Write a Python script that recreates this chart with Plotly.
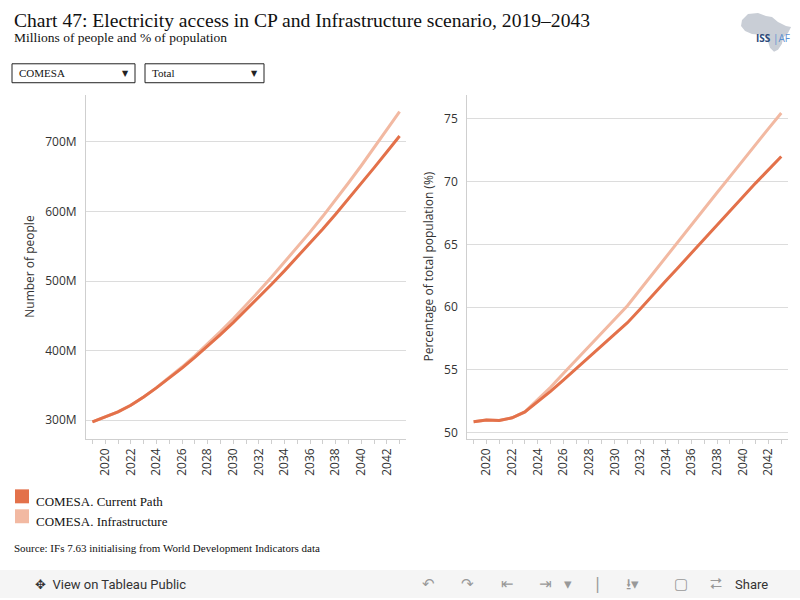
import plotly.graph_objects as go

years = list(range(2019, 2044))

# Number of people with electricity access (millions)
people_cp = [297.6, 304.8, 312.0, 321.5, 333.3, 346.5, 360.4, 375.0, 390.3, 406.3,
             423.0, 440.3, 458.2, 476.6, 495.4, 514.6, 534.2, 554.2, 574.8, 596.0,
             617.8, 640.0, 662.5, 685.3, 708.3]
people_infra = [297.6, 304.8, 312.0, 321.5, 333.3, 346.9, 361.3, 376.5, 392.6, 409.5,
                427.3, 445.8, 465.2, 485.2, 505.7, 526.7, 548.2, 570.2, 593.0, 616.5,
                640.8, 665.6, 690.9, 716.6, 743.3]

# Share of total population with access (%)
pct_cp = [50.85, 51.0, 50.95, 51.17, 51.64, 52.44, 53.28, 54.18, 55.08, 56.0,
          56.9, 57.8, 58.75, 59.85, 61.0, 62.1, 63.2, 64.33, 65.45, 66.57,
          67.67, 68.77, 69.88, 70.97, 72.0]
pct_infra = [50.85, 51.0, 50.95, 51.17, 51.64, 52.6, 53.6, 54.7, 55.77, 56.83,
             57.9, 58.96, 60.1, 61.4, 62.7, 64.0, 65.27, 66.57, 67.87, 69.13,
             70.4, 71.7, 72.97, 74.22, 75.47]

people_ticks = [300, 400, 500, 600, 700]
people_labels = ["300M", "400M", "500M", "600M", "700M"]
pct_ticks = [50, 55, 60, 65, 70, 75]

C_CP = "#E3714A"
C_INFRA = "#F2B9A2"
GRID = "#dcdcdc"
TICKF = dict(family="Open Sans", size=12, color="#333")
SERIF = "Liberation Serif"
W, H = 800, 600


def px(x, y):
    # pixel position -> paper coords
    return x / W, 1 - y / H


fig = go.Figure()

# draw infrastructure first so current path sits on top
fig.add_trace(go.Scatter(x=years, y=people_infra, mode="lines", line=dict(color=C_INFRA, width=3),
                         name="COMESA. Infrastructure", xaxis="x", yaxis="y"))
fig.add_trace(go.Scatter(x=years, y=people_cp, mode="lines", line=dict(color=C_CP, width=3),
                         name="COMESA. Current Path", xaxis="x", yaxis="y"))
fig.add_trace(go.Scatter(x=years, y=pct_infra, mode="lines", line=dict(color=C_INFRA, width=3),
                         name="COMESA. Infrastructure", xaxis="x2", yaxis="y2"))
fig.add_trace(go.Scatter(x=years, y=pct_cp, mode="lines", line=dict(color=C_CP, width=3),
                         name="COMESA. Current Path", xaxis="x2", yaxis="y2"))

xcommon = dict(range=[2018.5, 2043.5], tickmode="linear", tick0=2020, dtick=2,
               tickangle=-90, tickfont=TICKF, showgrid=False, zeroline=False,
               showline=True, linecolor="#cfcfcf", ticks="outside", ticklen=4,
               tickcolor="#cfcfcf",
               minor=dict(dtick=1, ticks="outside", ticklen=4, tickcolor="#cfcfcf"))
ycommon = dict(tickfont=TICKF, showgrid=True, gridcolor=GRID, zeroline=False,
               showline=True, linecolor="#cfcfcf", ticks="", ticklabelstandoff=6)

fig.update_layout(
    width=W, height=H,
    margin=dict(l=0, r=0, t=0, b=0),
    paper_bgcolor="white", plot_bgcolor="white",
    showlegend=False,
    xaxis=dict(domain=[0.1075, 0.5075], anchor="y", **xcommon),
    yaxis=dict(domain=[0.2667, 0.8417], anchor="x", range=[273.8, 767.7],
               tickvals=people_ticks, ticktext=people_labels,
               title=dict(text="Number of people", font=TICKF, standoff=7), **ycommon),
    xaxis2=dict(domain=[0.584, 0.9846], anchor="y2", **xcommon),
    yaxis2=dict(domain=[0.2667, 0.8417], anchor="x2", range=[49.52, 76.93],
                tickvals=pct_ticks,
                title=dict(text="Percentage of total population (%)", font=TICKF, standoff=7), **ycommon),
)


def note(text, x, y, size, family=SERIF, color="#111", anchor="left"):
    ax, ay = px(x, y)
    fig.add_annotation(text=text, x=ax, y=ay, xref="paper", yref="paper", xanchor=anchor,
                       yanchor="middle", showarrow=False,
                       font=dict(family=family, size=size, color=color))


# titles
note("Chart 47: Electricity access in CP and Infrastructure scenario, 2019\u20132043", 12, 21, 19.6)
note("Millions of people and % of population", 12, 38, 13.5)

# filter dropdowns
for x0, x1, label in [(12, 135, "COMESA"), (145, 264, "Total")]:
    fig.add_shape(type="rect", xref="paper", yref="paper", x0=x0 / W, x1=x1 / W,
                  y0=1 - 83 / H, y1=1 - 64 / H, line=dict(color="#222", width=1))
    note(label, x0 + 5, 73.5, 11)
    note("\u25bc", x1 - 10, 73.5, 8, family="DejaVu Sans", color="#222", anchor="center")

# legend
for i, (col, label) in enumerate([(C_CP, "COMESA. Current Path"), (C_INFRA, "COMESA. Infrastructure")]):
    top = 491 + i * 20
    fig.add_shape(type="rect", xref="paper", yref="paper", x0=15 / W, x1=29 / W,
                  y0=1 - (top + 14) / H, y1=1 - top / H, line=dict(width=0), fillcolor=col)
    note(label, 34, top + 12, 13)

note("Source: IFs 7.63 initialising from World Development Indicators data", 12, 550, 11)

# logo (rough africa silhouette + wordmark)
outline = [(742, 20), (748, 14), (758, 13), (766, 16), (772, 17), (778, 22), (786, 26),
           (791, 27), (788, 33), (783, 38), (782, 44), (778, 50), (774, 52), (770, 48),
           (768, 42), (766, 37), (760, 35), (752, 34), (745, 31), (741, 26)]
path = "M " + " L ".join("%.4f,%.4f" % px(x, y) for x, y in outline) + " Z"
fig.add_shape(type="path", xref="paper", yref="paper", path=path,
              fillcolor="#c9ced6", line=dict(width=0))
note("<b>ISS</b>", 763, 38, 10, family="Open Sans", color="#2b4a7a", anchor="center")
note("|AF", 771, 38, 10, family="Open Sans", color="#5b8fd0")

# tableau toolbar
fig.add_shape(type="rect", xref="paper", yref="paper", x0=0, x1=1, y0=0, y1=28 / H,
              fillcolor="#f5f5f5", line=dict(width=0))
note("\u2725  View on Tableau Public", 33, 586, 13, family="Roboto", color="#333")
for sym, x in [("\u21b6", 428), ("\u21b7", 467), ("\u21e4", 507), ("\u21e5", 545), ("\u25be", 568),
               ("|", 597), ("\u2b73\u25be", 632), ("\u25a2", 681), ("\u2b82", 716)]:
    note(sym, x, 586, 15, family="DejaVu Sans", color="#999", anchor="center")
note("Share", 733, 586, 13, family="Roboto", color="#333")

# page body has a default 8px margin; drop it so the figure sits at 0,0
fig.write_html("out.html", config={"displayModeBar": False},
               post_script="document.body.style.margin='0';")
